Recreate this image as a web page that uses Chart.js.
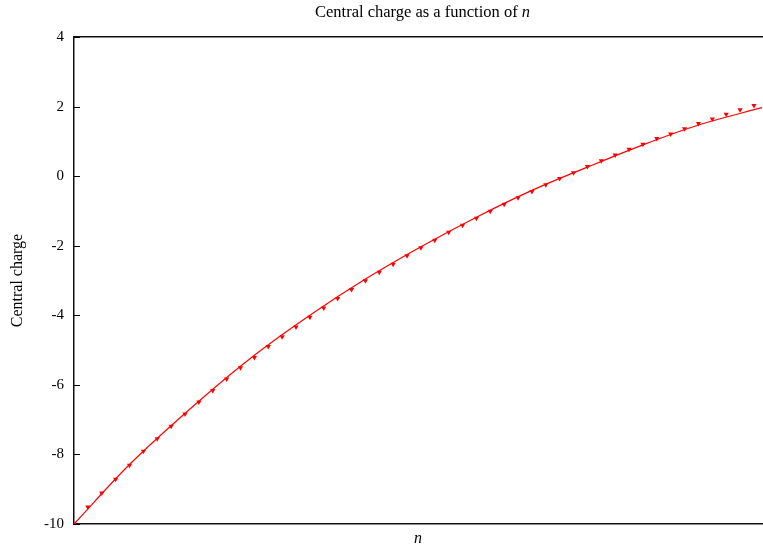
<!DOCTYPE html>
<html>
<head>
<meta charset="utf-8">
<script src="https://cdn.jsdelivr.net/npm/chart.js@4/dist/chart.umd.min.js"></script>
<style>
html,body{margin:0;padding:0;background:#fff;overflow:hidden;}
#wrap{width:763px;height:548px;overflow:hidden;}
</style>
</head>
<body>
<div id="wrap"><canvas id="c" width="765" height="548"></canvas></div>
<script>
// ---- data ----
const nIndex = [0,1,2,3,4,5,6,7,8,9,10,11,12,13,14,15,16,17,18,19,20,21,22,23,24,25,26,27,28,29,30,31,32,33,34,35,36,37,38,39,40,41,42,43,44,45,46,47,48,49];
const markerValues = [-10.00,-9.51,-9.11,-8.71,-8.31,-7.91,-7.55,-7.19,-6.84,-6.49,
  -6.16,-5.83,-5.51,-5.21,-4.90,-4.62,-4.34,-4.06,-3.79,-3.52,
  -3.26,-3.01,-2.76,-2.53,-2.29,-2.06,-1.84,-1.61,-1.41,-1.21,
  -1.01,-0.81,-0.62,-0.44,-0.25,-0.07,0.10,0.28,0.44,0.61,
  0.77,0.92,1.08,1.21,1.36,1.51,1.64,1.78,1.91,2.03];
const fitN = [0,4,9,13,17,21,25,29,33,37,41,45,49.58];
const fitValues = [-10.00,-8.29,-6.47,-5.15,-4.00,-2.96,-2.03,-1.18,-0.41,0.26,0.90,1.47,1.97];
const yTicks = [-10,-8,-6,-4,-2,0,2,4];
const xRange = [0, 49.58];
const titleMain = 'Central charge as a function of ';
const titleVar = 'n';
const yTitle = 'Central charge';
const xTitle = 'n';

const SERIF = '"Liberation Serif", "DejaVu Serif", serif';

const innerTicks = {
  id: 'innerTicks',
  afterDraw(chart) {
    const ys = chart.scales.y;
    const ctx = chart.ctx;
    const left = chart.chartArea.left;
    ctx.save();
    ctx.strokeStyle = '#000';
    ctx.lineWidth = 1;
    yTicks.forEach(v => {
      const py = Math.round(ys.getPixelForValue(v)) + 0.5;
      ctx.beginPath();
      ctx.moveTo(left, py);
      ctx.lineTo(left + 6, py);
      ctx.stroke();
    });
    ctx.restore();
  }
};

const mixedTitle = {
  id: 'mixedTitle',
  afterDraw(chart) {
    const ctx = chart.ctx;
    ctx.save();
    ctx.fillStyle = '#000';
    ctx.textBaseline = 'alphabetic';
    const fMain = '16.5px ' + SERIF;
    const fVar = 'italic 16.5px ' + SERIF;
    ctx.font = fMain;
    const w1 = ctx.measureText(titleMain).width;
    ctx.font = fVar;
    const w2 = ctx.measureText(titleVar).width;
    const cx = 422.5;
    const x0 = cx - (w1 + w2) / 2;
    ctx.font = fMain;
    ctx.fillText(titleMain, x0, 17);
    ctx.font = fVar;
    ctx.fillText(titleVar, x0 + w1, 17);
    ctx.restore();
  }
};

new Chart(document.getElementById('c'), {
  type: 'scatter',
  data: {
    datasets: [
      {
        label: 'data',
        data: nIndex.map((n, i) => ({x: n, y: markerValues[i]})),
        showLine: false,
        pointStyle: 'triangle',
        rotation: 180,
        pointRadius: 3,
        pointHoverRadius: 3,
        backgroundColor: '#f00',
        borderColor: '#f00',
        borderWidth: 0,
        order: 2
      },
      {
        type: 'line',
        label: 'fit',
        data: fitN.map((n, i) => ({x: n, y: fitValues[i]})),
        borderColor: '#f00',
        borderWidth: 1.2,
        pointRadius: 0,
        fill: false,
        cubicInterpolationMode: 'monotone',
        order: 1
      }
    ]
  },
  options: {
    responsive: false,
    animation: false,
    devicePixelRatio: 1,
    layout: {padding: {top: 37, right: 0, left: 0, bottom: 0}},
    plugins: {
      legend: {display: false},
      tooltip: {enabled: false},
      title: {display: false}
    },
    scales: {
      x: {
        type: 'linear',
        position: 'bottom',
        min: xRange[0],
        max: xRange[1],
        ticks: {display: false},
        grid: {display: false, drawTicks: false},
        border: {display: true, color: '#111', width: 1.5},
        title: {display: true, text: xTitle, color: '#000',
          font: {family: SERIF, size: 16, style: 'italic'}, padding: {top: 0, bottom: 0}},
        afterFit: s => { s.height = 24; }
      },
      x2: {
        type: 'linear',
        position: 'top',
        min: xRange[0],
        max: xRange[1],
        ticks: {display: false},
        grid: {display: false, drawTicks: false},
        border: {display: true, color: '#111', width: 1.5},
        afterFit: s => { s.height = 0; }
      },
      y: {
        type: 'linear',
        min: yTicks[0],
        max: yTicks[yTicks.length - 1],
        afterBuildTicks: s => { s.ticks = yTicks.map(v => ({value: v})); },
        ticks: {color: '#000', font: {family: SERIF, size: 15}, padding: 10},
        grid: {display: false, drawTicks: false},
        border: {display: true, color: '#111', width: 1.5},
        title: {display: true, text: yTitle, color: '#000',
          font: {family: SERIF, size: 16}, padding: {top: 8, bottom: 0}},
        afterFit: s => { s.width = 74; }
      }
    }
  },
  plugins: [innerTicks, mixedTitle]
});
</script>
</body>
</html>
